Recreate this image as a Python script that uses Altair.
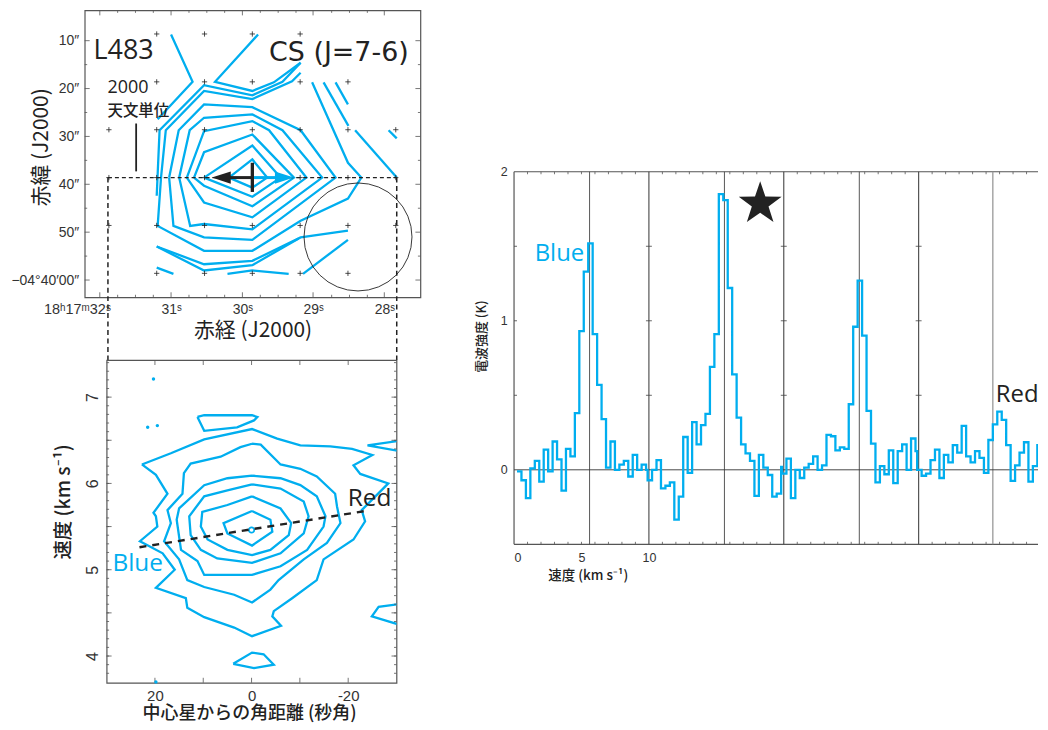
import altair as alt
import pandas as pd

CYAN = "#00AEEF"
INK = "#222222"
FRAME = "#555555"
LATIN = "Open Sans"
CJK = "Noto Sans CJK JP"

# ---------- Map panel: offsets in arcsec from the source (east positive) and declination arcsec
MAP_OPEN = {
    "a": [(17.0, 8.7), (12.5, 18.6), (19.8, 26.4)],
    "b": [(-1.2, 8.7), (7.8, 18.6), (0, 20.5), (-4.5, 18.7), (-10.1, 14.6)],
    "c": [(20, 42.4), (19.4, 28.7), (10.1, 19.3), (0, 21.4), (-6.3, 18.6), (-10.1, 14.6)],
    "d": [(-10.1, 16.7), (-8.3, 18.5), (0, 22.2), (10.1, 20.5), (18.1, 28.7), (19.1, 38.6), (19.8, 48.7),
          (10.1, 53.9), (0, 53.9), (-10.1, 47.6), (-20, 43), (-22.8, 38.6), (-20, 35.5), (-12.5, 18.7)],
    "e": [(-14.9, 18.7), (-20.1, 27.8)],
    "f": [(-17.4, 18.7), (-20, 23.3)],
    "g": [(-21.5, 28.7), (-30.2, 38.6)],
    "h": [(-28.5, 28.7), (-30.2, 30.4)],
    "i": [(20, 53), (10.1, 56.7), (0, 56), (-10.1, 51.1), (-20, 49.7)],
    "j": [(20, 53), (10.1, 58), (0, 56.9), (-9.7, 51.3)],
    "k": [(20, 57.4), (16.5, 58.7)],
    "l": [(5.2, 58.7), (0, 58), (-7.6, 58.7)],
    "m": [(-10.6, 58.7), (-20, 51.6)],
}
MAP_CLOSED = {
    "n": [(17.4, 38.6), (16.5, 48.7), (10.1, 51.1), (0, 51.6), (-17.4, 38.6), (-10.1, 28.7), (0, 23.9), (10.1, 23.3), (15.4, 28.7)],
    "o": [(15.3, 38.6), (13, 48.7), (10.1, 48.3), (0, 49.4), (-14.6, 38.6), (-6.3, 28.7), (0, 25.4), (10.1, 26.1), (13.1, 28.7)],
    "p": [(13.7, 38.6), (10.1, 43.8), (0, 46.9), (-11.3, 38.6), (-3.5, 28.7), (0, 26.8), (10.1, 28.9)],
    "q": [(12.2, 38.6), (10.1, 40.3), (0, 44.6), (-8.7, 38.6), (0, 29.6), (10.1, 33.3)],
    "r": [(10.1, 38.6), (0, 42.6), (-5.9, 38.6), (0, 31.9)],
    "s": [(4.9, 38.6), (0, 40.7), (-3.1, 38.6), (0, 34.8)],
}
GRID_ROWS = {8.6: [20, 10, 0, -10], 18.6: [20, 10, 0, -10, -20],
             28.6: [30, 20, 10, 0, -10, -20, -30], 38.6: [30, 20, 10, 0, -10, -20, -30],
             48.6: [30, 20, 10, 0, -10, -20, -30], 58.6: [20, 10, 0, -10, -20]}
RA_TICKS = [17, 2.08, -12.7, -27.6]
RA_LABELS = ["31ˢ", "30ˢ", "29ˢ", "28ˢ"]
DEC_TICKS = [10, 20, 30, 40, 50, 60]

# ---------- Position-velocity panel: offset arcsec, velocity km/s
PV_CLOSED = {
    "a": [(22.7, 6.22), (16.7, 6.35), (9.8, 6.51), (-0.1, 6.63), (-5.3, 6.52), (-10.1, 6.44), (-16.3, 6.43), (-20.8, 6.40),
          (-25, 6.33), (-21.1, 6.21), (-22.5, 6.11), (-28.3, 6.0), (-22.8, 5.69), (-23.5, 5.56), (-21.1, 5.35), (-14.9, 5.12),
          (-13.5, 4.88), (-8.4, 4.67), (-4.6, 4.52), (-4.3, 4.46), (-6.1, 4.35), (-0.1, 4.23), (3.6, 4.33), (9.8, 4.45),
          (13.3, 4.56), (13.6, 4.67), (19.8, 4.79), (15.9, 5.0), (18.4, 5.19), (23.1, 5.33), (19.5, 5.5), (19.8, 5.62),
          (20.3, 5.66), (17.4, 5.88), (19.8, 6.10)],
    "b": [(-0.1, 6.46), (-1.9, 6.45), (-6, 6.22), (-10.1, 6.17), (-13.5, 6.08), (-17.3, 5.88), (-17.7, 5.73), (-18.4, 5.54),
          (-15.6, 5.31), (-10.8, 5.12), (-5.6, 4.88), (-3.9, 4.77), (-0.1, 4.62), (3.6, 4.71), (9.8, 4.80), (13.3, 4.88),
          (15, 5.12), (18.1, 5.33), (16.7, 5.54), (17.4, 5.69), (14.3, 5.88), (14, 6.12), (12.6, 6.23), (6.4, 6.31), (2.3, 6.42)],
    "c": [(-0.1, 6.09), (-6, 6.06), (-10.1, 5.98), (-13.5, 5.85), (-15.3, 5.62), (-14.9, 5.5), (-11.5, 5.23), (-6, 5.04),
          (-0.1, 4.94), (9.8, 4.94), (11.2, 5.10), (14.6, 5.23), (15.5, 5.58), (15, 5.71), (9.8, 5.98), (5, 6.06)],
    "d": [(-0.1, 5.99), (-6, 5.94), (-10.8, 5.79), (-11.8, 5.62), (-10.8, 5.42), (-6, 5.19), (-0.1, 5.08), (7.1, 5.13),
          (10.5, 5.23), (12.6, 5.40), (12.9, 5.62), (9.8, 5.85), (5, 5.92)],
    "e": [(-0.1, 5.85), (-6, 5.71), (-8.2, 5.54), (-7.7, 5.40), (-3.9, 5.23), (-0.1, 5.17), (5, 5.23), (9.1, 5.35),
          (10.5, 5.5), (10.2, 5.67), (5, 5.75)],
    "f": [(-0.1, 5.68), (-3.9, 5.58), (-4.3, 5.44), (-0.1, 5.28), (5, 5.42), (5.8, 5.54)],
    "h": [(11.2, 6.77), (9.8, 6.79), (-0.1, 6.79), (-1.2, 6.77), (-0.5, 6.73), (3, 6.65), (9.8, 6.61)],
    "i": [(3.8, 3.91), (-0.1, 4.04), (-2.5, 4.02), (-4.6, 3.90), (-0.5, 3.86)],
}
PV_OPEN = {
    "j": [(-30.2, 6.49), (-24, 6.44), (-30.2, 6.38)],
    "k": [(-30.2, 4.60), (-26.3, 4.57), (-24.9, 4.46), (-30.2, 4.37)],
}
PV_DOTS = [(20.3, 7.21), (21.5, 6.65), (19.5, 6.67), (19.8, 3.70)]
PV_GRADIENT = [(23.2, 5.26), (-23.5, 5.68)]

# ---------- Spectra: intensity in K per velocity bin, one list per position
SPECTRUM_BIN = 0.33
SPECTRUM_START = [0.22, 9.904, 19.867, 29.89]
SPECTRUM_1 = [-0.01, -0.07, -0.19, 0.01, 0.06, -0.08, 0.135, -0.01, 0.19, 0.07, -0.14, 0.14, 0.09, 0.38, 0.93, 1.33, 1.52,
              0.91, 0.57, 0.34, 0.015, 0.19, 0, 0.035, 0.06, -0.045, 0.10, 0, 0.035, 0]
SPECTRUM_2 = [-0.07, 0, 0.065, -0.125, -0.107, -0.085, -0.335, -0.18, 0.22, -0.02, 0.32, 0.17, 0.30, 0.375, 0.69, 0.91,
              1.85, 1.81, 1.22, 0.64, 0.35, 0.17, 0.11, 0.06, -0.175, 0.10, 0.015, -0.035, -0.18, -0.16, 0.02]
SPECTRUM_3 = [-0.025, 0.075, -0.19, 0, -0.055, 0.015, 0.04, 0.09, 0, 0.03, 0.235, 0.225, 0.13, 0.15, 0.14, 0.44, 0.96,
              1.27, 0.90, 0.395, 0.175, -0.085, 0.025, -0.03, 0.13, -0.09, 0.125, 0.17, 0, 0.21, 0.125]
SPECTRUM_4 = [0, -0.04, -0.025, 0.065, 0.135, -0.055, 0.10, 0.05, 0.165, 0.115, 0.295, 0.09, 0.05, 0.125, 0.08, -0.02,
              0.20, 0.305, 0.39, 0.335, 0.165, -0.075, 0.03, 0.115, 0.185, -0.08, 0.025, 0.165, 0.005, 0.13, 0.13]
PANEL_EDGES = [10, 20, 30]
CENTRE_LINES = [5.6, 15.6, 25.6]
CENTRE_LINE_LAST = [35.5]


def contour_frame(open_d, closed_d):
    rows = []
    for key, pts in open_d.items():
        rows += [{"id": key, "i": i, "x": p[0], "y": p[1]} for i, p in enumerate(pts)]
    for key, pts in closed_d.items():
        for i, p in enumerate(pts + pts[:1]):
            rows.append({"id": key, "i": i, "x": p[0], "y": p[1]})
    return pd.DataFrame(rows)


class Frame:
    """One panel's two positional scales and the axes they carry."""

    def __init__(self, xdom, ydom, w, h, xaxis, yaxis):
        self.xdom, self.ydom, self.w, self.h = xdom, ydom, w, h
        self.xs = alt.Scale(domain=list(xdom), nice=False, zero=False)
        self.ys = alt.Scale(domain=list(ydom), nice=False, zero=False)
        self.xaxis, self.yaxis = xaxis, yaxis

    def X(self, field="x:Q"):
        return alt.X(field, scale=self.xs, axis=self.xaxis)

    def Y(self, field="y:Q"):
        return alt.Y(field, scale=self.ys, axis=self.yaxis)

    def ticks(self, xs, ys, length, color=FRAME, width=0.8):
        lx = (self.xdom[1] - self.xdom[0]) * length / self.w
        ly = (self.ydom[1] - self.ydom[0]) * length / self.h
        xrows, yrows = [], []
        for v in xs:
            xrows.append({"x": v, "y": self.ydom[0], "y2": self.ydom[0] + ly})
            xrows.append({"x": v, "y": self.ydom[1], "y2": self.ydom[1] - ly})
        for v in ys:
            yrows.append({"y": v, "x": self.xdom[0], "x2": self.xdom[0] + lx})
            yrows.append({"y": v, "x": self.xdom[1], "x2": self.xdom[1] - lx})
        out = []
        if xrows:
            out.append(self.vrule(xrows, color=color, strokeWidth=width))
        if yrows:
            out.append(self.hrule(yrows, color=color, strokeWidth=width))
        return out

    def hrule(self, rows, **kw):
        return alt.Chart(pd.DataFrame(rows)).mark_rule(**kw).encode(x=self.X(), x2="x2:Q", y=self.Y())

    def vrule(self, rows, **kw):
        return alt.Chart(pd.DataFrame(rows)).mark_rule(**kw).encode(x=self.X(), y=self.Y(), y2="y2:Q")

    def text(self, rows, **kw):
        return alt.Chart(pd.DataFrame(rows)).mark_text(align=kw.pop("align", "left"), baseline="alphabetic", **kw).encode(
            x=self.X(), y=self.Y(), text="t:N")

    def symbol(self, rows, **kw):
        return alt.Chart(pd.DataFrame(rows)).mark_point(**kw).encode(x=self.X(), y=self.Y())

    def lines(self, df, **kw):
        return alt.Chart(df).mark_line(**kw).encode(x=self.X(), y=self.Y(), detail="id:N", order="i:Q")


# ======================= MAP =======================
ra_expr = "{" + ",".join(f"'{v}':'{t}'" for v, t in zip(RA_TICKS, RA_LABELS)) + "}[''+datum.value]"
M = Frame((35.06, -35.15), (63.6, 3.67), 337, 288,
          alt.Axis(values=RA_TICKS, labelExpr=ra_expr, title="赤経 (J2000)", ticks=False, domain=False,
                   grid=False, labelFont="Liberation Sans", labelFontSize=14, labelColor="#333", labelPadding=5, labelAngle=0,
                   titleFont=CJK, titleFontSize=21, titleFontWeight="normal", titleColor="#222", titlePadding=3),
          alt.Axis(values=DEC_TICKS, labelExpr="datum.value==60?'−04°40′00″':datum.value+'″'",
                   title="赤緯 (J2000)", ticks=False, domain=False, grid=False, labelFont="Liberation Sans", labelFontSize=14,
                   labelColor="#333", labelPadding=6, titleFont=CJK, titleFontSize=21, titleFontWeight="normal", titleColor="#222",
                   titleX=-33, titleY=137))

map_layers = [
    M.lines(contour_frame(MAP_OPEN, MAP_CLOSED), color=CYAN, strokeWidth=2.3, strokeJoin="miter", clip=True),
    M.symbol([{"x": x, "y": d} for d, xs in GRID_ROWS.items() for x in xs],
             shape="M-1,0L1,0M0,-1L0,1", size=28, stroke="#222", strokeWidth=0.8, filled=False, opacity=1),
]
map_layers += M.ticks(RA_TICKS + [31.9], DEC_TICKS, 5)
map_layers += M.ticks([31.9 - 3.73 * k for k in range(17) if k % 4], [15, 25, 35, 45, 55], 2.5)
map_layers += [
    M.hrule([{"x": 30.2, "x2": -30.2, "y": 38.6}], color="#222", strokeWidth=1.1, strokeDash=[4, 3]),
    M.vrule([{"x": 30.2, "y": 38.6, "y2": 76.7}, {"x": -30.2, "y": 38.6, "y2": 76.7}],
            color="#222", strokeWidth=1.5, strokeDash=[5, 3.5]),
    M.symbol([{"x": -22.1, "y": 51.0}], shape="circle", size=11750, stroke="#222", strokeWidth=0.9, filled=False, opacity=1),
    M.hrule([{"x": 0, "x2": -6, "y": 38.6}], color=CYAN, strokeWidth=3),
    M.symbol([{"x": -6.7, "y": 38.6}], shape="M1,0L-1,-0.65L-1,0.65Z", size=361, fill=CYAN, filled=True, opacity=1, strokeWidth=0),
    M.hrule([{"x": 6, "x2": 0, "y": 38.6}], color=INK, strokeWidth=3),
    M.symbol([{"x": 6.5, "y": 38.6}], shape="M-1,0L1,-0.65L1,0.65Z", size=361, fill=INK, filled=True, opacity=1, strokeWidth=0),
    M.vrule([{"x": 0, "y": 35.5, "y2": 41.6}], color=INK, strokeWidth=3.3),
    M.vrule([{"x": 24.3, "y": 27.3, "y2": 37.3}], color=INK, strokeWidth=1.8),
    M.text([{"x": 33.2, "y": 13.75, "t": "L483"}], font=LATIN, fontSize=27, color="#222"),
    M.text([{"x": -3.5, "y": 14.3, "t": "CS (J=7-6)"}], font="DejaVu Sans", fontSize=27, color="#222"),
    M.text([{"x": 30.3, "y": 21.0, "t": "2000"}], font=LATIN, fontSize=18, color="#222"),
    M.text([{"x": 30.3, "y": 25.8, "t": "天文単位"}], font=CJK, fontSize=15.5, fontWeight=500, color="#222"),
    M.text([{"x": 29.6, "y": 67.0, "t": "18ʰ17ᵐ32ˢ"}], font="Liberation Sans", fontSize=14.5, color="#333", align="right"),
]
map_chart = alt.layer(*map_layers).properties(width=M.w, height=M.h, view=alt.ViewBackground(stroke=FRAME, strokeWidth=1.2))

# ======================= PV =======================
P = Frame((30.0, -30.0), (3.69, 7.43), 291, 324,
          alt.Axis(values=[20, 0, -20], labelExpr="''+datum.value", title="中心星からの角距離 (秒角)", ticks=False, domain=False,
                   grid=False, labelFont="Liberation Sans", labelFontSize=15, labelColor="#333", labelPadding=6,
                   titleFont=CJK, titleFontSize=18, titleFontWeight=500, titleColor="#222", titleX=143, titleY=22),
          alt.Axis(values=[4, 5, 6, 7], title="速度 (km s⁻¹)", ticks=False, domain=False, grid=False,
                   labelFont="Liberation Sans", labelFontSize=16, labelColor="#333", labelAngle=270, labelPadding=6,
                   titleFont=CJK, titleFontSize=19.5, titleFontWeight=500, titleColor="#222", titleX=-33, titleY=142))

pv_layers = [P.lines(contour_frame(PV_OPEN, PV_CLOSED), color=CYAN, strokeWidth=2.3, strokeJoin="miter", clip=True)]
pv_layers += P.ticks([20, 10, 0, -10, -20], [4, 4.5, 5, 5.5, 6, 6.5, 7], 5)
pv_layers += P.ticks([], [3.8 + 0.1 * k for k in range(37)], 2.5)
pv_layers += [
    P.symbol([{"x": p[0], "y": p[1]} for p in PV_DOTS], shape="circle", size=12, fill=CYAN, filled=True, opacity=1, strokeWidth=0),
    P.symbol([{"x": 0, "y": 5.46}], shape="circle", size=29, stroke=CYAN, strokeWidth=1.8, filled=False, opacity=1),
    alt.Chart(pd.DataFrame([{"x": p[0], "y": p[1]} for p in PV_GRADIENT])).mark_line(color=INK, strokeWidth=2.4, strokeDash=[7, 6]).encode(
        x=P.X(), y=P.Y()),
    P.text([{"x": -19.9, "y": 5.74, "t": "Red"}], font=LATIN, fontSize=24.5, color=INK),
    P.text([{"x": 28.8, "y": 4.99, "t": "Blue"}], font=LATIN, fontSize=24.5, color=CYAN),
]
pv_chart = alt.layer(*pv_layers).properties(width=P.w, height=P.h, view=alt.ViewBackground(stroke=FRAME, strokeWidth=1.2))

# ======================= SPECTRA =======================
S_MAX = 38.85
S = Frame((0.0, S_MAX), (-0.5, 2.0), 526, 374,
          alt.Axis(values=[0, 5, 10], format="d", title="速度 (km s⁻¹)", ticks=False, domain=False, grid=False,
                   labelFont="Liberation Sans", labelFontSize=12.5, labelColor="#333", labelPadding=7,
                   titleFont=CJK, titleFontSize=13.5, titleFontWeight=500, titleColor="#222", titleX=74, titleY=24),
          alt.Axis(values=[0, 1, 2], format="d", title="電波強度 (K)", ticks=False, domain=False, grid=False,
                   labelFont="Liberation Sans", labelFontSize=12.5, labelColor="#333", labelPadding=7,
                   titleFont=CJK, titleFontSize=13, titleFontWeight=500, titleColor="#222", titleX=-26, titleY=165))

rows = []
for start, series in zip(SPECTRUM_START, [SPECTRUM_1, SPECTRUM_2, SPECTRUM_3, SPECTRUM_4]):
    for i, val in enumerate(series):
        rows.append({"x": start + SPECTRUM_BIN * i, "y": val})
spec = pd.DataFrame(rows)
spec["i"] = range(len(spec))

spec_layers = [
    S.vrule([{"x": 0, "y": -0.5, "y2": 2.0}], color=FRAME, strokeWidth=1.2),
    S.hrule([{"x": 0, "x2": S_MAX, "y": -0.5}, {"x": 0, "x2": S_MAX, "y": 2.0}], color=FRAME, strokeWidth=1.2),
    S.vrule([{"x": v, "y": -0.5, "y2": 2.0} for v in PANEL_EDGES], color="#444", strokeWidth=1.1),
    S.vrule([{"x": v, "y": -0.5, "y2": 2.0} for v in CENTRE_LINES], color="#444", strokeWidth=0.9),
    S.vrule([{"x": v, "y": -0.5, "y2": 2.0} for v in CENTRE_LINE_LAST], color="#999", strokeWidth=1.3),
    S.hrule([{"x": 0, "x2": S_MAX, "y": 0}], color="#333", strokeWidth=0.9),
    alt.Chart(spec).mark_line(color=CYAN, strokeWidth=2.3, interpolate="step-after", strokeJoin="miter", clip=True).encode(
        x=S.X(), y=S.Y(), order="i:Q"),
]
spec_layers += S.ticks([k for k in range(0, 39) if k % 10], [], 2.5)
spec_layers += [
    S.hrule([{"x": e - 0.22, "x2": e + 0.22, "y": y} for e in PANEL_EDGES for y in [0.5, 1.0, 1.5]], color="#444", strokeWidth=0.8),
    S.hrule([{"x": 0, "x2": 0.22, "y": y} for y in [0.5, 1.0, 1.5]], color="#444", strokeWidth=0.8),
    S.symbol([{"x": 18.25, "y": 1.785}],
             shape="M0,-1L0.23,-0.32L0.95,-0.31L0.37,0.12L0.59,0.81L0,0.4L-0.59,0.81L-0.37,0.12L-0.95,-0.31L-0.23,-0.32Z",
             size=2050, fill=INK, filled=True, opacity=1, strokeWidth=0),
    S.text([{"x": 1.53, "y": 1.40, "t": "Blue"}], font=LATIN, fontSize=24, color=CYAN),
    S.text([{"x": 35.72, "y": 0.457, "t": "Red"}], font=LATIN, fontSize=24, color=INK),
]
spec_chart = alt.layer(*spec_layers).properties(width=S.w, height=S.h, view=alt.ViewBackground(stroke="transparent"))


def spacer(w, h):
    return alt.Chart(pd.DataFrame({"a": [0]})).mark_point(opacity=0, size=1).encode(
        x=alt.value(w / 2), y=alt.value(h / 2)).properties(width=w, height=h, view=alt.ViewBackground(stroke="transparent"))


left = alt.vconcat(map_chart, alt.hconcat(spacer(22, 10), pv_chart, spacing=0, bounds="flush"), spacing=63, bounds="flush")
right = alt.vconcat(spacer(10, 162), spec_chart, spacing=0, bounds="flush")
chart = alt.hconcat(left, right, spacing=53).properties(
    padding={"left": 2, "top": 0, "right": 0, "bottom": 0}, background="white")

chart.save("out.html", embed_options={"renderer": "svg", "actions": False})
